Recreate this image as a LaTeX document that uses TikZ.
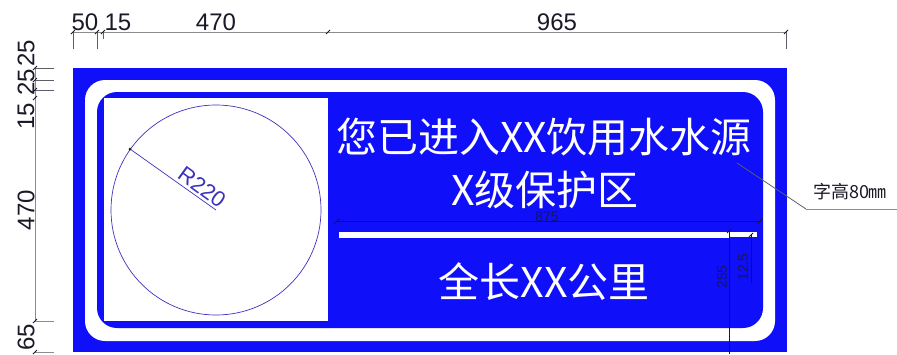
\documentclass[tikz,border=0pt]{standalone}
\usepackage{fontspec}
\setmainfont{Liberation Sans}
\newfontfamily\cjk{Noto Sans CJK SC}
\definecolor{signblue}{RGB}{15,15,250}
\definecolor{dimgray}{RGB}{140,140,140}
\definecolor{inkdark}{RGB}{25,25,40}
\definecolor{discline}{RGB}{60,50,190}
\tikzset{
  x=1pt,y=-1pt,
  dimline/.style={draw=dimgray,line width=0.8pt},
  tickline/.style={draw=inkdark!70,line width=0.7pt},
  slash/.style={draw=inkdark,line width=1pt},
  dimtext/.style={text=inkdark,inner sep=0pt,font=\fontsize{24}{25}\selectfont},
  smalldim/.style={text=inkdark!75!signblue,inner sep=0pt,font=\fontsize{14}{15}\selectfont},
  signtext/.style={text=white,inner sep=0pt,font=\cjk\fontsize{41}{44}\selectfont},
  darkdim/.style={draw=inkdark,line width=0.6pt}
}
\begin{document}
\begin{tikzpicture}
\useasboundingbox (0,0) rectangle (897,354);
\fill[white] (0,0) rectangle (897,354);
% sign body
\fill[signblue] (73,68) rectangle (787,352);
\fill[white,rounded corners=20pt] (85,80) rectangle (775,341);
\fill[signblue,rounded corners=20pt] (97,92) rectangle (763,328);
\fill[white] (104,98) rectangle (328,321);
% circle
\coordinate (cc) at (216,210);
\node[circle,draw=discline,line width=0.7pt,minimum size=210pt,inner sep=0pt] (disc) at (cc) {};
\coordinate (rimpt) at (130,149);
\draw[discline,line width=0.7pt] (rimpt) -- (cc);
\fill[inkdark] (rimpt) circle (1.5pt);
\node[text=discline,inner sep=0pt,rotate=-36,font=\fontsize{22}{23}\selectfont] (rlabel) at (202,187) {R220};
% bar
\fill[white] (339,232) rectangle (729,238);
\fill[white] (729,232) rectangle (757,237);
% sign text
\node[signtext] (line1) at (544,137) {您已进入XX饮用水水源};
\node[signtext] (line2) at (545,190) {X级保护区};
\node[signtext] (line3) at (544,282) {全长XX公里};
% top dimensions
\coordinate (t0) at (73,32); \coordinate (t4) at (786,32);
\draw[dimline] (t0) -- (t4);
\foreach \x in {73,97,786} \draw[tickline] (\x,32) -- (\x,49);
\draw[tickline] (103,32) -- (103,39);
\foreach \x in {73,97,103,328,786} \draw[slash] (\x-2,34) -- (\x+2,30);
\node[dimtext] (d50) at (85,22) {50};
\node[dimtext] (d15) at (118,22) {15};
\node[dimtext] (d470) at (216,22) {470};
\node[dimtext] (d965) at (557,22) {965};
% left dimensions
\coordinate (l0) at (35,68); \coordinate (l1) at (35,321);
\draw[dimline] (l0) -- (l1);
\foreach \y in {68,80,90} \draw[tickline] (35,\y) -- (54,\y);
\draw[dimline] (35,321) -- (54,321);
\draw[dimline] (35,352) -- (54,352);
\foreach \y in {68,80,90,98,321,352} \draw[slash] (33,\y+2) -- (37,\y-2);
\node[dimtext,rotate=90] (s25a) at (26,53) {25};
\node[dimtext,rotate=90] (s25b) at (26,82) {25};
\node[dimtext,rotate=90] (s15) at (26,116) {15};
\node[dimtext,rotate=90] (s470) at (26,210) {470};
\node[dimtext,rotate=90] (s65) at (26,337) {65};
% bar dimension
\coordinate (a0) at (337,221); \coordinate (a1) at (760,221);
\draw[darkdim] (a0) -- (a1);
\foreach \x in {337,760} \draw[slash] (\x-2.5,223.5) -- (\x+2.5,218.5);
\node[smalldim] (d875) at (547,217) {875};
\coordinate (b1) at (729,231); \coordinate (b2) at (729,354);
\draw[darkdim] (b1) -- (b2);
\coordinate (b3) at (751,235); \coordinate (b4) at (751,283);
\draw[darkdim] (b3) -- (b4);
\draw[slash] (727,233) -- (731,229);
\draw[slash] (749,237) -- (753,233);
\node[smalldim,rotate=90] (d255) at (722,277) {255};
\node[smalldim,rotate=90] (d125) at (743,267) {12.5};
% leader
\coordinate (lead0) at (737,163); \coordinate (lead1) at (806,209); \coordinate (lead2) at (897,209);
\draw[inkdark!70,line width=0.7pt] (lead0) -- (lead1);
\draw[dimline] (lead1) -- (lead2);
\node[inner sep=0pt,text=inkdark,font=\cjk\fontsize{18}{19}\selectfont] (cap) at (850,192) {字高80㎜};
\end{tikzpicture}
\end{document}
